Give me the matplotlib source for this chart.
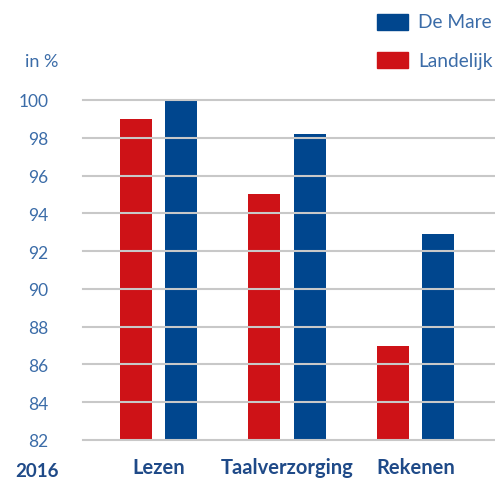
import numpy as np
import matplotlib.pyplot as plt
from matplotlib.patches import Rectangle

plt.rcParams['font.family'] = ['Lato', 'DejaVu Sans']

categories = ['Lezen', 'Taalverzorging', 'Rekenen']
landelijk = [99.0, 95.0, 87.0]
de_mare = [100.0, 98.2, 92.9]
yticks = [82, 84, 86, 88, 90, 92, 94, 96, 98, 100]

red = '#CE1217'
blue = '#00468E'
tick_col = '#3B6CA8'
label_col = '#1F4A88'

fig = plt.figure(figsize=(4.95, 4.85), dpi=100)
ax = fig.add_axes([83/495, 44/485, 412/495, 340/485])

x = np.arange(len(categories))
w = 0.249
off = 0.177
ax.bar(x - off, np.array(landelijk) - 82, w, bottom=82, color=red, zorder=1)
ax.bar(x + off, np.array(de_mare) - 82, w, bottom=82, color=blue, zorder=1, clip_on=False)

ax.set_xlim(-0.588, 2.619)
ax.set_ylim(82, 100)
ax.set_yticks(yticks)
for t in yticks:
    ax.axhline(t, color='#C8C8C8', lw=1.5, zorder=2, clip_on=False)

for s in ax.spines.values():
    s.set_visible(False)
ax.tick_params(axis='y', length=0, pad=25, labelsize=12.5, labelcolor=tick_col)
ax.set_xticks(x)
ax.set_xticklabels(categories, fontsize=14.5, fontweight='bold', color=label_col)
ax.tick_params(axis='x', length=0, pad=12)

fig.text(59/495, 1 - 472/485, '2016', ha='right', va='center', fontsize=13.5,
         fontweight='bold', color=label_col)
fig.text(58/495, 1 - 62/485, 'in %', ha='right', va='center', fontsize=13, color=tick_col)

# legend
for yy, col, lab in [(23, blue, 'De Mare'), (61, red, 'Landelijk')]:
    fig.patches.append(Rectangle((377/495, 1 - (yy + 8)/485), 31/495, 16/485,
                                 transform=fig.transFigure, color=col))
    fig.text(418/495, 1 - yy/485, lab, ha='left', va='center', fontsize=13.8, color=tick_col)

fig.savefig('out.png', dpi=100)
